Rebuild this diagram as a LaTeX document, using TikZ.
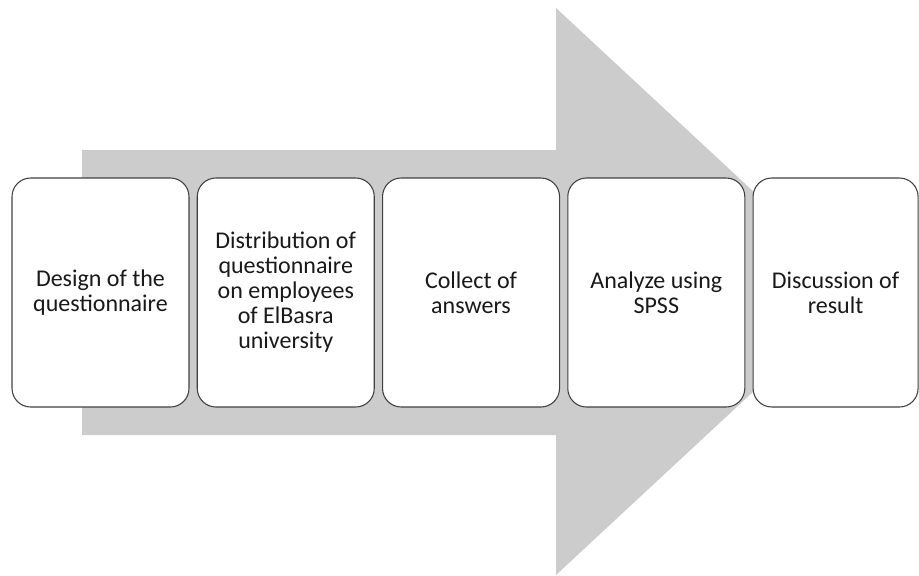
\documentclass[tikz,border=0pt]{standalone}
\usepackage{fontspec}
\setmainfont{Carlito}
\usetikzlibrary{positioning}
\definecolor{arrowgray}{HTML}{CCCCCC}
\definecolor{boxline}{HTML}{404040}
\tikzset{
  stepbox/.style={draw=boxline, fill=white, line width=0.8pt, rounded corners=14pt,
    minimum width=132.75pt, minimum height=171.75pt, inner sep=0pt,
    align=center, font=\fontsize{18}{18.75}\selectfont, text=black!90},
}
\begin{document}
\begin{tikzpicture}[x=0.75pt, y=-0.75pt]
    \useasboundingbox (0,0) rectangle (919,575);
    % big arrow behind the steps
    \fill[arrowgray] (82,150) -- (556,150) -- (556,8) -- (861,291.5) -- (556,575)
        -- (556,435) -- (82,435) -- cycle;
    % steps
    \node[stepbox] (design) at (100.5,292.5) {Design of the\\questionnaire};
    \node[stepbox, right=5.4pt of design] (distrib) {Distribution of\\questionnaire\\on employees\\of ElBasra\\university};
    \node[stepbox, right=5.4pt of distrib] (collect) {Collect of\\answers};
    \node[stepbox, right=5.4pt of collect] (analyze) {Analyze using\\SPSS};
    \node[stepbox, right=5.4pt of analyze, minimum width=123.75pt] (discuss) {Discussion of\\result};
\end{tikzpicture}
\end{document}
